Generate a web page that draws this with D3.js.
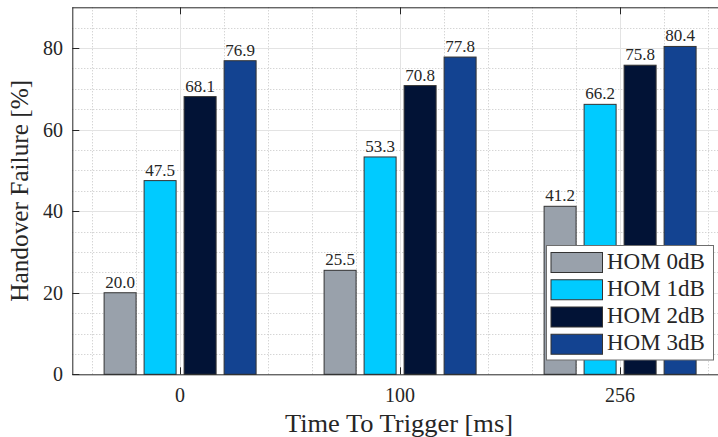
<!DOCTYPE html>
<html>
<head>
<meta charset="utf-8">
<script src="https://cdn.jsdelivr.net/npm/d3@7"></script>
<style>
  html, body { margin: 0; padding: 0; background: #fff; }
  svg { display: block; }
  text { font-family: "Liberation Serif", "Times New Roman", serif; fill: #262626; }
</style>
</head>
<body>
<svg id="chart" width="718" height="437"></svg>
<script>
// ---- data ----
const categories = ["0", "100", "256"];
const series = ["HOM 0dB", "HOM 1dB", "HOM 2dB", "HOM 3dB"];
const hom0 = [20.0, 25.5, 41.2];
const hom1 = [47.5, 53.3, 66.2];
const hom2 = [68.1, 70.8, 75.8];
const hom3 = [76.9, 77.8, 80.4];
const yTicks = [0, 20, 40, 60, 80];
const colors = ["#99a1ab", "#00cbff", "#021336", "#134391"];
const xLabel = "Time To Trigger [ms]";
const yLabel = "Handover Failure [%]";

const values = [hom0, hom1, hom2, hom3];

// ---- layout ----
const svg = d3.select("#chart");
const pL = 72.3, pT = 7.3, pB = 374.3, pR = 732.3;

const x = d3.scaleLinear().domain([0.51, 3.51]).range([pL, pR]);
const y = d3.scaleLinear().domain([0, 90]).range([pB, pT]);
const xs = d3.scaleBand().domain(series).range([-80, 80]).paddingInner(0.2).paddingOuter(0.1);

const g = svg.append("g");

// minor grid
const yMinor = d3.range(5, 90, 5).filter(v => v % 20 !== 0);
g.selectAll(".ymin").data(yMinor).enter().append("line")
  .attr("x1", pL).attr("x2", pR)
  .attr("y1", d => Math.round(y(d)) + 0.5).attr("y2", d => Math.round(y(d)) + 0.5)
  .attr("stroke", "#c4c4c4").attr("stroke-width", 1).attr("stroke-dasharray", "1,2");
const xMinor = d3.range(0.6, 3.5, 0.2).filter(v => Math.abs(v - Math.round(v)) > 0.01);
g.selectAll(".xmin").data(xMinor).enter().append("line")
  .attr("y1", pT).attr("y2", pB)
  .attr("x1", d => Math.round(x(d)) + 0.5).attr("x2", d => Math.round(x(d)) + 0.5)
  .attr("stroke", "#c4c4c4").attr("stroke-width", 1).attr("stroke-dasharray", "1,2");

// major grid
g.selectAll(".ymaj").data(yTicks.filter(v => v > 0)).enter().append("line")
  .attr("x1", pL).attr("x2", pR)
  .attr("y1", d => Math.round(y(d)) + 0.5).attr("y2", d => Math.round(y(d)) + 0.5)
  .attr("stroke", "#e3e3e3").attr("stroke-width", 1);
g.selectAll(".xmaj").data([1, 2, 3]).enter().append("line")
  .attr("y1", pT).attr("y2", pB)
  .attr("x1", d => Math.round(x(d)) + 0.5).attr("x2", d => Math.round(x(d)) + 0.5)
  .attr("stroke", "#e3e3e3").attr("stroke-width", 1);

// bottom ticks (behind bars)
g.selectAll(".xtick").data([1, 2, 3]).enter().append("line")
  .attr("y1", pB).attr("y2", pB - 7)
  .attr("x1", d => Math.round(x(d)) + 0.5).attr("x2", d => Math.round(x(d)) + 0.5)
  .attr("stroke", "#262626").attr("stroke-width", 1);

// bars
const barData = [];
categories.forEach((c, ci) => {
  series.forEach((s, si) => {
    barData.push({ ci, s, si, v: values[si][ci] });
  });
});
g.selectAll(".bar").data(barData).enter().append("rect")
  .attr("x", d => x(d.ci + 1) + xs(d.s))
  .attr("width", xs.bandwidth())
  .attr("y", d => y(d.v))
  .attr("height", d => y(0) - y(d.v))
  .attr("fill", d => colors[d.si])
  .attr("stroke", "#333").attr("stroke-width", 1);

// value labels
g.selectAll(".lbl").data(barData).enter().append("text")
  .attr("x", d => x(d.ci + 1) + xs(d.s) + xs.bandwidth() / 2)
  .attr("y", d => y(d.v) - 5)
  .attr("text-anchor", "middle")
  .attr("font-size", 17)
  .text(d => d.v.toFixed(1));

// axes lines
g.append("line").attr("x1", pL + 0.5).attr("x2", pL + 0.5).attr("y1", pT).attr("y2", pB + 0.5)
  .attr("stroke", "#262626").attr("stroke-width", 1);
g.append("line").attr("x1", pL).attr("x2", pR).attr("y1", pB + 0.5).attr("y2", pB + 0.5)
  .attr("stroke", "#262626").attr("stroke-width", 1);
g.append("line").attr("x1", pL).attr("x2", pR).attr("y1", pT + 0.5).attr("y2", pT + 0.5)
  .attr("stroke", "#262626").attr("stroke-width", 1);

// y ticks
g.selectAll(".ytick").data(yTicks).enter().append("line")
  .attr("x1", pL).attr("x2", pL + 7)
  .attr("y1", d => Math.round(y(d)) + 0.5).attr("y2", d => Math.round(y(d)) + 0.5)
  .attr("stroke", "#262626").attr("stroke-width", 1);
g.selectAll(".ytl").data(yTicks).enter().append("text")
  .attr("x", 63).attr("y", d => y(d) + 7)
  .attr("text-anchor", "end").attr("font-size", 20)
  .text(d => d);

// top ticks
g.selectAll(".ttick").data([1, 2, 3]).enter().append("line")
  .attr("y1", pT).attr("y2", pT + 7)
  .attr("x1", d => Math.round(x(d)) + 0.5).attr("x2", d => Math.round(x(d)) + 0.5)
  .attr("stroke", "#262626").attr("stroke-width", 1);

// x tick labels
g.selectAll(".xtl").data(categories).enter().append("text")
  .attr("x", (d, i) => x(i + 1)).attr("y", 402)
  .attr("text-anchor", "middle").attr("font-size", 20)
  .text(d => d);

// axis labels
svg.append("text").attr("x", 399).attr("y", 432)
  .attr("text-anchor", "middle").attr("font-size", 25)
  .attr("textLength", 228).attr("lengthAdjust", "spacingAndGlyphs").text(xLabel);
svg.append("text").attr("transform", `translate(28,${(pT + pB) / 2}) rotate(-90)`)
  .attr("text-anchor", "middle").attr("font-size", 25)
  .attr("textLength", 222).attr("lengthAdjust", "spacingAndGlyphs").text(yLabel);

// legend
const lg = svg.append("g");
lg.append("rect").attr("x", 546.5).attr("y", 245.5).attr("width", 167).attr("height", 114.5)
  .attr("fill", "#fff").attr("stroke", "#6e6e6e").attr("stroke-width", 1);
const ly = d3.scaleBand().domain(series).range([249, 358]);
const items = lg.selectAll(".li").data(series).enter().append("g")
  .attr("transform", d => `translate(0,${ly(d)})`);
items.append("rect").attr("x", 551).attr("y", 3.5).attr("width", 51.5).attr("height", 20)
  .attr("fill", (d, i) => colors[i]).attr("stroke", "#333").attr("stroke-width", 1);
items.append("text").attr("x", 607).attr("y", 19.5).attr("font-size", 23).text(d => d);
</script>
</body>
</html>
